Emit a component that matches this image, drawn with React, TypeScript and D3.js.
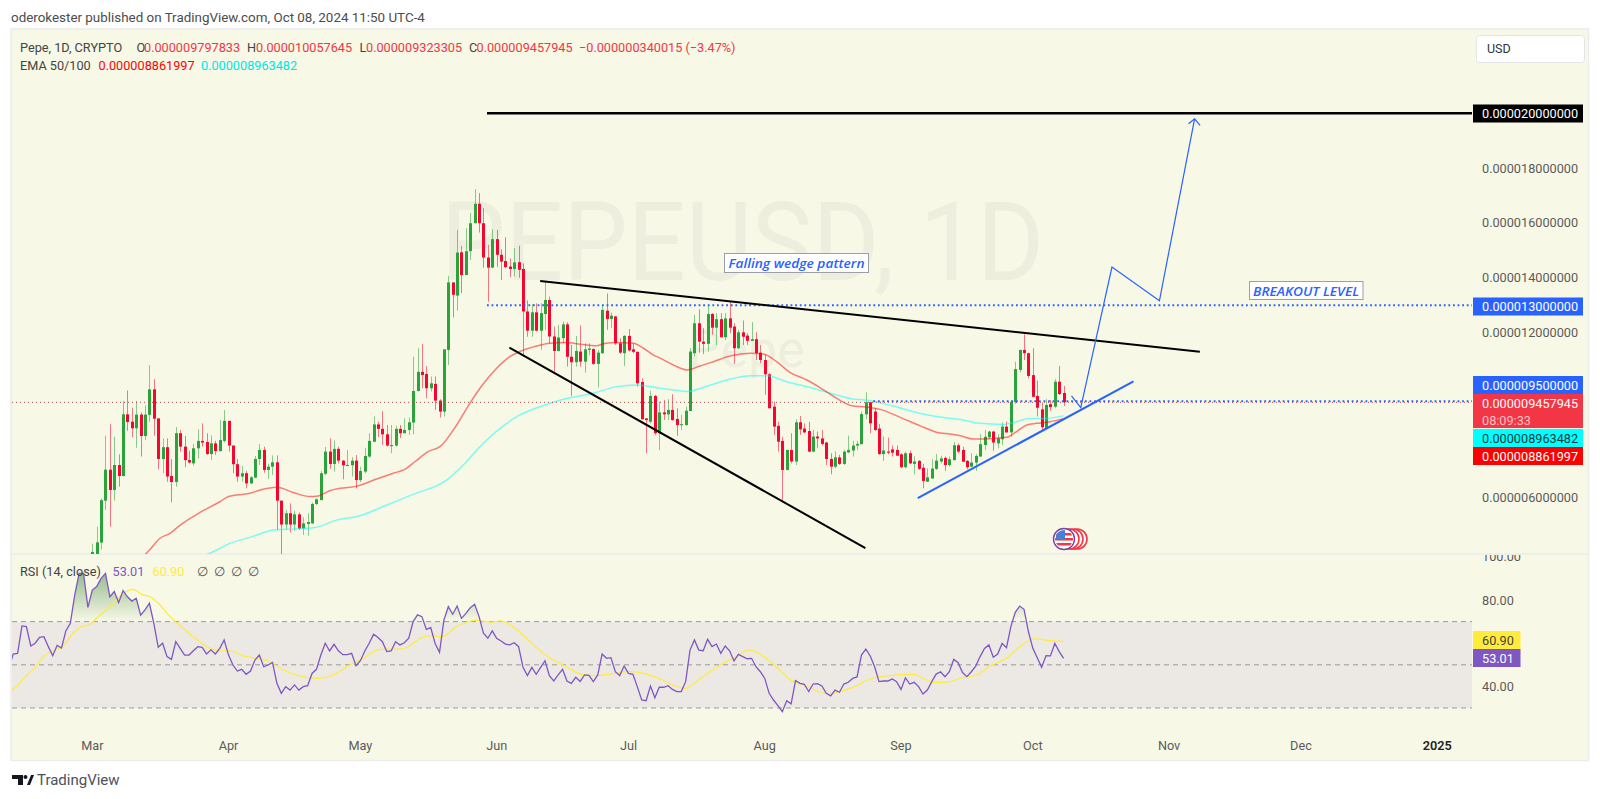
import * as d3 from "d3";

// all prices are in units of 1e-6 USD; candle index 0 is Mar 1 2024
const opens = [
  3.7, 3.9, 4.34, 5.87, 7.0, 6.26, 7.17, 6.77, 9.02, 8.75,
  8.51, 9.01, 8.23, 9.0, 9.93, 8.87, 7.39, 7.82, 6.77, 6.55,
  8.33, 7.84, 7.35, 7.23, 7.78, 8.05, 8.01, 7.57, 7.96, 7.68,
  8.05, 8.78, 7.88, 7.2, 6.75, 6.87, 6.5, 6.71, 7.39, 7.72,
  6.99, 7.11, 7.27, 5.87, 5.0, 5.41, 5.0, 5.37, 4.85, 5.02,
  5.04, 5.75, 5.89, 6.85, 7.66, 7.21, 7.76, 7.33, 7.15, 7.16,
  7.33, 6.62, 6.93, 7.48, 8.02, 8.65, 8.49, 8.29, 7.86, 7.88,
  8.49, 8.33, 8.45, 8.72, 9.87, 10.57, 10.49, 9.97, 10.13, 9.52,
  9.12, 11.37, 13.83, 13.35, 14.93, 14.1, 14.97, 15.99, 16.7, 15.99,
  14.74, 14.37, 15.41, 14.84, 14.61, 14.41, 14.32, 14.57, 14.32, 12.77,
  12.07, 12.74, 12.07, 12.68, 13.19, 11.86, 11.33, 11.8, 12.3, 11.12,
  10.92, 11.31, 10.94, 11.37, 11.4, 10.86, 11.25, 12.8, 12.5, 12.59,
  11.61, 11.25, 11.88, 11.39, 11.3, 10.2, 8.87, 8.75, 9.69, 8.33,
  9.09, 9.02, 9.18, 8.85, 8.63, 8.63, 9.14, 11.25, 12.34, 11.67,
  11.59, 12.68, 12.18, 12.49, 11.83, 12.52, 12.22, 11.43, 12.01, 11.89,
  11.7, 11.76, 11.27, 11.0, 10.48, 9.3, 8.6, 8.05, 6.99, 7.72,
  7.3, 8.73, 8.5, 8.41, 7.66, 8.21, 8.14, 7.99, 7.39, 7.11,
  7.45, 7.21, 7.63, 7.7, 7.88, 7.93, 9.02, 9.46, 9.12, 8.5,
  7.57, 7.66, 7.74, 7.72, 7.56, 7.09, 7.6, 7.21, 7.32, 7.07,
  6.56, 6.68, 7.03, 7.3, 7.43, 7.17, 7.35, 7.89, 7.72, 7.32,
  7.11, 7.26, 7.48, 7.9, 8.18, 8.39, 7.96, 8.11, 8.57, 8.36,
  9.46, 10.64, 11.37, 11.25, 10.45, 9.69, 9.2, 8.51, 9.39, 9.3,
  10.21, 9.798,
];
const highs = [
  4.3, 4.92, 5.95, 8.24, 8.66, 8.2, 7.56, 9.5, 9.89, 9.26,
  9.51, 9.09, 9.34, 10.81, 10.3, 8.87, 8.14, 8.14, 7.39, 8.56,
  8.45, 8.23, 7.69, 7.94, 8.47, 8.69, 8.33, 8.25, 8.05, 8.81,
  9.18, 8.78, 7.88, 7.39, 7.13, 6.95, 6.77, 7.5, 7.93, 7.84,
  7.21, 7.52, 7.52, 5.87, 5.53, 5.77, 5.5, 5.44, 5.26, 5.41,
  5.8, 5.95, 6.95, 7.83, 8.14, 8.06, 7.84, 7.35, 7.72, 7.45,
  7.53, 7.11, 7.8, 8.33, 8.94, 8.75, 9.14, 8.63, 8.63, 8.6,
  8.63, 8.87, 8.9, 11.12, 11.43, 11.59, 10.78, 10.4, 10.4, 9.57,
  11.39, 14.07, 13.83, 15.75, 15.16, 15.81, 16.36, 17.23, 17.09, 16.54,
  15.2, 15.77, 15.75, 15.04, 15.48, 14.71, 15.08, 15.17, 14.53, 13.17,
  13.05, 13.07, 13.07, 13.86, 13.31, 12.22, 12.28, 12.4, 12.38, 11.55,
  11.88, 12.26, 11.61, 11.61, 11.43, 11.37, 13.01, 13.43, 12.73, 12.61,
  11.79, 11.91, 12.13, 11.61, 11.3, 10.33, 8.87, 9.88, 9.73, 9.48,
  9.54, 9.57, 9.75, 9.24, 9.0, 9.3, 11.43, 12.65, 12.85, 12.16,
  13.01, 12.71, 12.71, 12.71, 12.71, 13.13, 12.34, 12.1, 12.44, 11.98,
  12.38, 12.01, 11.55, 11.19, 10.52, 9.48, 8.75, 8.2, 7.72, 8.33,
  8.84, 8.96, 8.69, 8.75, 8.45, 8.39, 8.45, 8.02, 7.6, 7.66,
  7.54, 7.72, 8.24, 8.05, 8.05, 9.12, 9.82, 9.48, 9.24, 8.66,
  8.21, 8.17, 7.88, 7.88, 7.6, 7.66, 7.7, 7.48, 7.35, 7.21,
  7.05, 7.38, 7.57, 7.51, 7.48, 7.48, 8.01, 7.96, 7.84, 7.35,
  7.6, 7.57, 8.3, 8.45, 8.42, 8.42, 8.3, 8.72, 8.75, 9.54,
  10.94, 11.37, 11.94, 11.27, 11.43, 10.25, 9.45, 9.57, 9.54, 10.3,
  10.78, 10.058,
];
const lows = [
  3.6, 3.8, 4.1, 5.53, 4.92, 5.87, 6.38, 6.75, 8.42, 8.18,
  7.8, 7.48, 8.08, 8.75, 8.24, 7.01, 6.87, 6.56, 5.81, 6.38,
  7.66, 7.09, 7.23, 7.15, 7.41, 7.84, 7.54, 7.35, 7.54, 7.66,
  7.99, 7.66, 6.87, 6.56, 6.56, 6.32, 6.48, 6.69, 7.17, 6.89,
  6.66, 6.81, 4.8, 3.7, 4.8, 4.71, 4.77, 4.8, 4.62, 4.59,
  5.02, 5.71, 5.89, 6.8, 7.03, 6.93, 7.23, 6.65, 7.13, 6.75,
  6.32, 6.55, 6.87, 7.43, 8.0, 8.2, 7.9, 7.84, 7.6, 7.84,
  8.15, 8.33, 8.27, 8.29, 9.85, 9.97, 9.6, 9.85, 9.18, 8.9,
  8.94, 10.82, 12.55, 12.8, 13.44, 14.1, 14.65, 15.99, 15.65, 14.37,
  13.13, 14.35, 14.39, 13.92, 14.35, 14.02, 14.05, 14.0, 11.13, 11.85,
  11.85, 12.04, 11.37, 12.1, 11.61, 10.58, 11.31, 11.61, 10.76, 9.69,
  10.76, 10.76, 10.54, 11.18, 10.82, 10.0, 11.22, 12.1, 12.16, 11.55,
  11.22, 10.78, 11.31, 11.25, 10.03, 8.84, 7.6, 8.69, 8.27, 7.72,
  8.81, 8.81, 8.79, 8.24, 8.45, 8.6, 9.14, 11.13, 11.27, 11.22,
  11.31, 11.92, 11.55, 11.83, 11.73, 11.98, 10.86, 11.39, 11.55, 11.55,
  11.7, 11.0, 10.88, 9.73, 9.24, 8.27, 7.66, 5.83, 6.98, 7.23,
  7.17, 8.27, 8.33, 7.63, 7.63, 7.78, 7.88, 7.17, 6.83, 7.05,
  7.17, 7.17, 7.6, 7.48, 7.72, 7.93, 8.85, 8.33, 8.41, 7.54,
  7.32, 7.56, 7.48, 7.51, 7.05, 7.05, 7.2, 6.83, 6.99, 6.32,
  6.56, 6.66, 6.99, 7.23, 6.96, 7.11, 7.33, 7.6, 7.27, 7.01,
  7.09, 6.96, 7.48, 7.72, 8.14, 7.69, 7.78, 7.9, 8.35, 8.2,
  9.4, 10.55, 11.0, 10.33, 9.64, 8.94, 8.39, 8.47, 9.15, 9.24,
  9.73, 9.323,
];
const closes = [
  4.0, 4.35, 5.89, 7.0, 6.26, 7.17, 6.77, 9.02, 8.74, 8.51,
  9.01, 8.23, 9.01, 9.93, 8.86, 7.39, 7.82, 6.75, 6.55, 8.33,
  7.84, 7.35, 7.26, 7.78, 8.05, 7.99, 7.57, 7.96, 7.68, 8.08,
  8.78, 7.88, 7.2, 6.75, 6.87, 6.5, 6.72, 7.39, 7.72, 6.99,
  7.11, 7.27, 5.87, 5.0, 5.41, 5.0, 5.37, 4.85, 5.04, 5.09,
  5.75, 5.92, 6.87, 7.66, 7.21, 7.76, 7.33, 7.16, 7.17, 7.33,
  6.62, 6.95, 7.5, 8.05, 8.65, 8.49, 8.29, 7.88, 7.9, 8.49,
  8.33, 8.45, 8.73, 9.87, 10.57, 10.45, 9.97, 10.15, 9.52, 9.12,
  11.39, 13.83, 13.38, 14.92, 14.1, 14.97, 15.99, 16.7, 15.99, 14.74,
  14.37, 15.41, 14.84, 14.59, 14.39, 14.32, 14.56, 14.29, 12.77, 12.07,
  12.74, 12.07, 12.71, 13.19, 11.86, 11.33, 11.82, 12.3, 11.12, 10.92,
  11.33, 10.94, 11.39, 11.42, 10.86, 11.27, 12.83, 12.5, 12.62, 11.61,
  11.27, 11.88, 11.35, 11.3, 10.15, 8.84, 8.81, 9.69, 8.33, 9.09,
  9.02, 9.18, 8.81, 8.63, 8.66, 9.15, 11.31, 12.34, 11.67, 11.59,
  12.68, 12.18, 12.49, 11.83, 12.52, 12.18, 11.43, 12.01, 11.85, 11.7,
  11.76, 11.25, 11.0, 10.48, 9.24, 8.57, 8.02, 6.99, 7.72, 7.3,
  8.73, 8.47, 8.36, 7.66, 8.21, 8.14, 7.94, 7.39, 7.11, 7.45,
  7.21, 7.66, 7.72, 7.88, 7.94, 9.03, 9.46, 8.69, 8.45, 7.57,
  7.7, 7.62, 7.62, 7.51, 7.09, 7.6, 7.23, 7.3, 7.03, 6.59,
  6.72, 7.04, 7.33, 7.41, 7.17, 7.38, 7.89, 7.66, 7.29, 7.09,
  7.26, 7.5, 7.93, 8.2, 8.39, 7.99, 8.14, 8.57, 8.36, 9.48,
  10.67, 11.37, 11.25, 10.42, 9.66, 9.26, 8.55, 9.36, 9.28, 10.21,
  9.76, 9.458,
];

const ema50Days = [12, 13, 15.4, 17.7, 20, 24.5, 29, 31, 35.9, 38.2, 42, 45.7, 49.5, 51.4, 54, 56.4, 60.2, 64.7, 68.5, 71.1, 73.4, 76.4, 79.1, 82.9, 85.9, 88.2, 92, 95, 97.3, 101.1, 104.1, 107.9, 111, 114.7, 116.3, 119.3, 123.1, 125.4, 127.6, 129.2, 132.2, 135.3, 138.3, 141.3, 145.1, 149.7, 152.7, 155.7, 158.8, 162.6, 166.4, 169.4, 173.2, 175.5, 179.3, 183.8, 188.4, 192.2, 195.2, 197.5, 200.4, 205, 208, 210.3, 212.6, 214.8, 217.9, 221];
const ema50Values = [3.9, 4.07, 4.5, 4.68, 4.98, 5.44, 5.83, 6.02, 6.14, 6.26, 6.36, 6.17, 6.02, 6.04, 6.23, 6.32, 6.4, 6.66, 6.87, 7.01, 7.29, 7.66, 7.84, 8.63, 9.42, 9.97, 10.7, 11.12, 11.31, 11.51, 11.61, 11.64, 11.58, 11.52, 11.59, 11.64, 11.61, 11.43, 11.19, 11.07, 10.82, 10.64, 10.78, 10.94, 11.15, 11.25, 11.22, 10.94, 10.54, 10.27, 9.91, 9.6, 9.32, 9.3, 9.2, 8.91, 8.6, 8.36, 8.3, 8.24, 8.12, 8.14, 8.18, 8.39, 8.63, 8.69, 8.75, 8.862];
const ema100Days = [26, 28.3, 31.3, 35.9, 41.2, 45.7, 50.3, 55.6, 60.9, 67, 73, 80.6, 84.4, 88.2, 92.8, 96.9, 101.9, 107.2, 114, 119.3, 123.9, 129.2, 132.2, 135.3, 139, 144.4, 149.7, 153.5, 158, 163.3, 167.9, 172.4, 177.7, 182.3, 188.4, 193.7, 197.5, 202, 207.3, 210.3, 213, 216.4, 221];
const ema100Values = [3.9, 4.07, 4.31, 4.53, 4.8, 4.84, 4.88, 5.16, 5.32, 5.71, 6.1, 6.62, 7.17, 7.84, 8.51, 8.96, 9.3, 9.57, 9.79, 10.03, 10.09, 9.97, 9.91, 9.85, 10.0, 10.27, 10.43, 10.43, 10.21, 10.0, 9.79, 9.6, 9.5, 9.32, 9.05, 8.9, 8.83, 8.69, 8.65, 8.75, 8.87, 8.87, 8.963];

// RSI starts 19 days before Mar 1
const rsiFirstDay = -19;
const rsiValues = [
  48,
  55.0, 55.3, 68.0, 67.7, 58.7, 60.0, 62.7, 63.0, 58.4, 54.2,
  59.0, 57.8, 65.8, 69.2, 82.3, 92.3, 92.3, 76.6, 84.6, 86.2,
  90.0, 92.3, 81.5, 83.9, 78.9, 84.3, 81.5, 79.5, 80.8, 73.0,
  75.4, 78.5, 69.2, 58.1, 60.0, 53.8, 52.5, 60.7, 57.6, 54.5,
  54.5, 56.5, 58.4, 58.1, 55.0, 56.9, 55.0, 57.6, 61.5, 54.5,
  49.9, 47.1, 47.9, 45.6, 47.1, 52.2, 54.5, 49.1, 49.9, 51.1,
  41.4, 36.8, 39.9, 38.3, 40.7, 38.3, 39.9, 40.3, 46.0, 47.9,
  54.5, 60.0, 56.4, 59.5, 56.5, 54.7, 54.7, 55.3, 49.6, 51.9,
  56.4, 60.0, 64.1, 62.6, 60.7, 56.1, 56.4, 60.7, 59.2,
  60.2, 62.3, 70.0, 73.1, 72.3, 66.4, 67.2, 59.9, 55.8, 70.7,
  76.9, 73.4, 77.2, 71.5, 73.8, 76.4, 78.0, 72.3, 64.6, 62.3,
  65.7, 62.3, 61.0, 59.6, 59.2, 60.2, 58.4, 48.8, 45.0, 48.8,
  45.6, 48.8, 51.9, 45.0, 42.5, 45.3, 47.9, 42.5, 41.4, 44.2,
  42.3, 45.3, 45.1, 42.2, 45.3, 55.0, 53.0, 53.3, 46.8, 45.0,
  49.4, 46.0, 45.6, 39.9, 33.7, 33.4, 40.2, 34.8, 39.6, 39.6,
  40.3, 38.6, 37.6, 37.6, 42.2, 56.8, 61.5, 56.8, 56.5, 61.8,
  58.4, 59.6, 55.3, 58.7, 56.5, 51.8, 54.8, 53.8, 52.8, 53.0,
  49.1, 46.8, 43.7, 36.8, 33.7, 31.1, 28.3, 33.4, 31.9, 42.7,
  41.4, 41, 37.6, 41.1, 41.3, 40.2, 36.8, 35.6, 38.3, 37.3,
  41.1, 41.9, 43.7, 44.4, 54.5, 57.3, 54.1, 49.1, 42.2, 42.5,
  42.5, 43.4, 42.2, 38.6, 44, 41.1, 41.9, 39.9, 36.5, 38.3,
  42.2, 45.7, 46.8, 44.5, 46.8, 52.5, 51, 46.4, 44.5, 46.8,
  49.4, 53.8, 57.6, 59.2, 53.5, 55, 59.9, 57.9, 67.7, 74.3,
  77.2, 75.7, 65.3, 57.6, 53.3, 48.8, 54.2, 54.1, 59.9, 56.1,
  53.01,
];
const rsiMaDays = [-18.4, -16.8, -14.9, -13, -11.1, -8.9, -6.6, -4.7, -2.4, -0.9, 1.8, 4.4, 7.1, 9.3, 11.2, 13.1, 15.4, 17.7, 20.7, 23.7, 26.8, 29.1, 31.3, 34.4, 37.4, 40.4, 43.5, 47.3, 51.1, 54.8, 58.6, 61.7, 64.7, 67, 70, 72.3, 74.6, 76.8, 79.5, 82.9, 85.2, 87.4, 90.5, 92.8, 96.2, 98.8, 101.9, 104.9, 107.9, 111.3, 114.7, 117.8, 122.3, 128.4, 132.2, 134.8, 137.5, 140.2, 143.6, 146.6, 149.3, 152.7, 155.7, 158.7, 161.8, 164.8, 167.8, 170.1, 173.5, 176.9, 181.5, 186.8, 189.1, 191.3, 194.4, 198.2, 201.2, 204.2, 208, 211, 213.3, 214.9, 217.9, 221];
const rsiMaValues = [38.3, 40.7, 45.3, 48.7, 53.8, 56.4, 58.7, 63.8, 67.7, 68.4, 73, 77.7, 83.1, 84.9, 82.6, 81.5, 77.7, 72.3, 66.9, 61.8, 57.6, 56.5, 56.5, 54.1, 53, 51.4, 47.6, 44.8, 43.7, 45.3, 49.9, 53, 56.8, 57.3, 57.3, 58.8, 62.3, 63.5, 63, 67.7, 69.7, 70.7, 69.7, 70.3, 66.9, 62.3, 56.5, 52.2, 49.1, 45.6, 45, 45.7, 46.8, 44.2, 40.6, 39.1, 42.2, 46.4, 50.7, 53.8, 56.9, 54, 48.9, 43.2, 40.7, 38, 36.5, 37.6, 39.9, 43.4, 45, 45.6, 43.8, 41.9, 42, 44.2, 45.3, 49.4, 53, 58.4, 61.5, 62, 61.2, 60.9];

const priceTicks = [18, 16, 14, 12, 6];
const rsiTicks = [100, 80, 40];
const rsiBands = [70, 50, 30];
const timeTicks = [
  { label: "Mar", date: [2024, 2] },
  { label: "Apr", date: [2024, 3] },
  { label: "May", date: [2024, 4] },
  { label: "Jun", date: [2024, 5] },
  { label: "Jul", date: [2024, 6] },
  { label: "Aug", date: [2024, 7] },
  { label: "Sep", date: [2024, 8] },
  { label: "Oct", date: [2024, 9] },
  { label: "Nov", date: [2024, 10] },
  { label: "Dec", date: [2024, 11] },
  { label: "2025", date: [2025, 0] },
];

// drawings: [day, price]; the horizontal ones run off the right of the pane
const targetLine = [[89.8, 20], [320, 20]];
const breakoutLine = [[89.8, 13], [320, 13]];
const supportLine = [[177.7, 9.5], [320, 9.5]];
const wedgeUpper = [[101.9, 13.88], [252, 11.3]];
const wedgeLower = [[94.9, 11.45], [175.9, 4.14]];
const blueTrend = [[187.8, 5.96], [236.9, 10.22]];
const projection = [[222.8, 9.69], [224.9, 9.26], [232, 14.39], [242.8, 13.16], [250.8, 19.8]];

const GREEN = "#2aa33b";
const RED = "#f5062f";
const BLUE = "#2962ff";
const BG = "#f7f8e6";
const AXIS_TEXT = "#5b5b5b";
const FONT = "Roboto, sans-serif";

const plot = { left: 12, right: 1472, top: 30, split: 554, bottom: 722 };

const dayMs = 86400000;
const mar1 = Date.UTC(2024, 2, 1);
const xTime = d3
  .scaleUtc()
  .domain([new Date(mar1), new Date(Date.UTC(2025, 0, 1))])
  .range([92.3, 1437.2]);
const xDay = (d: number) => xTime(new Date(mar1 + d * dayMs));
const yPrice = d3.scaleLinear().domain([20, 6]).range([113.3, 497.1]);
const yRsi = d3.scaleLinear().domain([80, 40]).range([600, 686.4]);

const priceLine = d3
  .line<number[]>()
  .x((d) => xDay(d[0]))
  .y((d) => yPrice(d[1]));
const smoothPrice = d3
  .line<number[]>()
  .x((d) => xDay(d[0]))
  .y((d) => yPrice(d[1]))
  .curve(d3.curveMonotoneX);
const rsiLine = d3
  .line<number[]>()
  .x((d) => xDay(d[0]))
  .y((d) => yRsi(d[1]));
const smoothRsi = d3
  .line<number[]>()
  .x((d) => xDay(d[0]))
  .y((d) => yRsi(d[1]))
  .curve(d3.curveMonotoneX);
const formatPrice = (p: number) => d3.format(".12f")(p * 1e-6);

const rsiPoints = rsiValues.map((v, i) => [rsiFirstDay + i, v]);
const rsiMaPoints = rsiMaDays.map((d, i) => [d, rsiMaValues[i]]);
const ema50Points = ema50Days.map((d, i) => [d, ema50Values[i]]);
const ema100Points = ema100Days.map((d, i) => [d, ema100Values[i]]);
const rsiArea = (base: number) =>
  d3
    .area<number[]>()
    .x((d) => xDay(d[0]))
    .y0(yRsi(base))
    .y1((d) => yRsi(d[1]))(rsiPoints) as string;

function PriceLabel({ y, h = 18, fill, color = "#fff", text, width = 110 }: any) {
  return (
    <g>
      <rect x={1473} y={y} width={width} height={h} fill={fill} />
      <text x={1482} y={y + 13.5} fontSize={12.7} fill={color}>
        {text}
      </text>
    </g>
  );
}

export default function App() {
  const tip = projection[projection.length - 1];
  const tipX = xDay(tip[0]);
  const tipY = yPrice(tip[1]);

  return (
    <svg
      width={1600}
      height={799}
      style={{ position: "absolute", left: 0, top: 0, display: "block", fontFamily: FONT }}
    >
      <defs>
        <clipPath id="pricePane">
          <rect x={plot.left} y={plot.top} width={plot.right - plot.left} height={plot.split - plot.top} />
        </clipPath>
        <clipPath id="rsiPane">
          <rect x={plot.left} y={plot.split + 1} width={plot.right - plot.left} height={plot.bottom - plot.split} />
        </clipPath>
        <clipPath id="aboveBand">
          <rect x={plot.left} y={plot.split} width={plot.right - plot.left} height={yRsi(70) - plot.split} />
        </clipPath>
        <clipPath id="belowBand">
          <rect x={plot.left} y={yRsi(30)} width={plot.right - plot.left} height={30} />
        </clipPath>
        <clipPath id="axisRsi">
          <rect x={1473} y={plot.split + 1} width={120} height={200} />
        </clipPath>
        <clipPath id="flagCircle">
          <circle cx={1064} cy={539} r={9} />
        </clipPath>
        <linearGradient id="overbought" gradientUnits="userSpaceOnUse" x1={0} x2={0} y1={yRsi(93)} y2={yRsi(70)}>
          <stop offset="0" stopColor="#2e7d32" stopOpacity={0.5} />
          <stop offset="1" stopColor="#2e7d32" stopOpacity={0} />
        </linearGradient>
        <linearGradient id="oversold" gradientUnits="userSpaceOnUse" x1={0} x2={0} y1={yRsi(30)} y2={yRsi(20)}>
          <stop offset="0" stopColor="#d32f2f" stopOpacity={0} />
          <stop offset="1" stopColor="#d32f2f" stopOpacity={0.5} />
        </linearGradient>
      </defs>

      <rect width={1600} height={799} fill="#fff" />
      <text x={11} y={22} fontSize={13.4} fill="#4c4c4c">
        oderokester published on TradingView.com, Oct 08, 2024 11:50 UTC-4
      </text>

      <rect x={11} y={29} width={1577.5} height={731.5} fill={BG} stroke="#ececec" strokeWidth={1.5} />
      <line x1={plot.left} x2={1588} y1={plot.split} y2={plot.split} stroke="#e4e6ee" />

      {/* watermark */}
      <g fill="#edeede">
        <text x={441} y={280} fontSize={110} textLength={603} lengthAdjust="spacingAndGlyphs">
          PEPEUSD, 1D
        </text>
        <text x={688} y={367} fontSize={52}>
          Pepe
        </text>
      </g>

      {/* candles */}
      <g clipPath="url(#pricePane)">
        {opens.map((o, i) => {
          const c = closes[i];
          const color = c >= o ? GREEN : RED;
          const cx = Math.round(xDay(i));
          const top = yPrice(Math.max(o, c));
          const bottom = yPrice(Math.min(o, c));
          return (
            <g key={i}>
              <line
                x1={cx + 0.5}
                x2={cx + 0.5}
                y1={yPrice(highs[i])}
                y2={yPrice(lows[i])}
                stroke={color}
                strokeOpacity={0.55}
              />
              <rect x={cx - 1} y={top} width={3} height={Math.max(bottom - top, 1)} fill={color} />
            </g>
          );
        })}
        <path d={smoothPrice(ema100Points) as string} fill="none" stroke="#00ffff" strokeOpacity={0.5} strokeWidth={1.5} />
        <path d={smoothPrice(ema50Points) as string} fill="none" stroke="#ff0000" strokeOpacity={0.5} strokeWidth={1.5} />

        {/* last price */}
        <line
          x1={plot.left}
          x2={plot.right}
          y1={yPrice(closes[closes.length - 1])}
          y2={yPrice(closes[closes.length - 1])}
          stroke="#a8474c"
          strokeWidth={1}
          strokeDasharray="1 3"
        />

        {/* drawings */}
        <path d={priceLine(targetLine) as string} stroke="#000" strokeWidth={2.5} fill="none" />
        <path d={priceLine(breakoutLine) as string} stroke={BLUE} strokeWidth={2} strokeDasharray="1.8 2.8" fill="none" />
        <path d={priceLine(supportLine) as string} stroke={BLUE} strokeWidth={2} strokeDasharray="1.8 2.8" fill="none" />
        <path d={priceLine(wedgeUpper) as string} stroke="#000" strokeWidth={2} fill="none" />
        <path d={priceLine(wedgeLower) as string} stroke="#000" strokeWidth={2} fill="none" />
        <path d={priceLine(blueTrend) as string} stroke={BLUE} strokeWidth={2} fill="none" />
        <path d={priceLine(projection) as string} stroke={BLUE} strokeWidth={1.2} fill="none" strokeLinejoin="miter" />
        <path
          d={`M${tipX - 6},${tipY + 5}L${tipX},${tipY}L${tipX + 5.5},${tipY + 6.5}`}
          stroke={BLUE}
          strokeWidth={1.2}
          fill="none"
        />
      </g>

      {/* text notes */}
      <g fontSize={13} fontWeight={600} fontStyle="italic" fill={BLUE} fontFamily="'Open Sans', sans-serif">
        <rect x={724.5} y={253.5} width={144} height={19} fill="#fff" stroke="#9aa0a6" />
        <text x={796.5} y={268} textAnchor="middle" textLength={136} lengthAdjust="spacingAndGlyphs">
          Falling wedge pattern
        </text>
        <rect x={1249.5} y={281.5} width={113.5} height={18} fill="#fff" stroke="#9aa0a6" />
        <text x={1306} y={295.5} textAnchor="middle" textLength={106} lengthAdjust="spacingAndGlyphs">
          BREAKOUT LEVEL
        </text>
      </g>

      {/* calendar icons */}
      <g>
        {[1077, 1073, 1069].map((cx) => (
          <circle key={cx} cx={cx} cy={539} r={10} fill="#fff" stroke="#f23645" strokeWidth={1.6} />
        ))}
        <circle cx={1064} cy={539} r={10.5} fill="#fff" stroke="#7b3fa8" strokeWidth={1.4} />
        <g clipPath="url(#flagCircle)">
          <rect x={1054} y={530} width={20} height={18} fill="#fff" />
          <rect x={1054} y={533} width={20} height={2.5} fill="#f23645" />
          <rect x={1054} y={538} width={20} height={2.5} fill="#f23645" />
          <rect x={1054} y={543} width={20} height={2.5} fill="#f23645" />
          <rect x={1056} y={530} width={9} height={9} fill="#4a7fd1" />
        </g>
      </g>

      {/* RSI pane */}
      <g clipPath="url(#rsiPane)">
        <rect
          x={plot.left}
          y={yRsi(70)}
          width={plot.right - plot.left}
          height={yRsi(30) - yRsi(70)}
          fill="#ece9e4"
        />
        {rsiBands.map((b) => (
          <line
            key={b}
            x1={plot.left}
            x2={plot.right}
            y1={yRsi(b)}
            y2={yRsi(b)}
            stroke="#9b9b9b"
            strokeDasharray="5 4"
          />
        ))}
        <path d={rsiArea(70)} fill="url(#overbought)" clipPath="url(#aboveBand)" />
        <path d={rsiArea(30)} fill="url(#oversold)" clipPath="url(#belowBand)" />
        <path d={smoothRsi(rsiMaPoints) as string} fill="none" stroke="#ffeb3b" strokeWidth={1.2} />
        <path d={rsiLine(rsiPoints) as string} fill="none" stroke="#7e57c2" strokeWidth={1.3} />
      </g>

      {/* legend */}
      <g fontSize={12.7}>
        <text y={52} fill="#444">
          <tspan x={20}>Pepe, 1D, CRYPTO</tspan>
          <tspan x={136.5}>O</tspan>
          <tspan x={247}>H</tspan>
          <tspan x={359.5}>L</tspan>
          <tspan x={469}>C</tspan>
        </text>
        <text y={52} fill="#f23645">
          <tspan x={144}>0.000009797833</tspan>
          <tspan x={256}>0.000010057645</tspan>
          <tspan x={366}>0.000009323305</tspan>
          <tspan x={476.5}>0.000009457945</tspan>
          <tspan x={579}>−0.000000340015 (−3.47%)</tspan>
        </text>
        <text x={20} y={70} fill="#444">
          EMA 50/100
        </text>
        <text x={98.5} y={70} fill="#ff0000">
          0.000008861997
        </text>
        <text x={201} y={70} fill="#00e5e5">
          0.000008963482
        </text>
        <text x={20} y={576} fill="#444">
          RSI (14, close)
        </text>
        <text x={112.5} y={576} fill="#7e57c2">
          53.01
        </text>
        <text x={152.5} y={576} fill="#ffeb3b">
          60.90
        </text>
        {[197, 214, 231, 248].map((x) => (
          <text key={x} x={x} y={576} fill="#555">
            ∅
          </text>
        ))}
      </g>

      {/* USD box */}
      <rect x={1476.5} y={35.5} width={108} height={27} rx={3} fill="#fff" stroke="#e3e4e8" />
      <text x={1487} y={53} fontSize={12.5} fill="#333">
        USD
      </text>

      {/* price axis */}
      <g fontSize={12.7} fill={AXIS_TEXT}>
        {priceTicks.map((p) => (
          <text key={p} x={1482} y={yPrice(p) + 4.5}>
            {formatPrice(p)}
          </text>
        ))}
      </g>
      <PriceLabel y={104.5} fill="#000" text={formatPrice(20)} />
      <PriceLabel y={297.5} fill={BLUE} text={formatPrice(13)} />
      <PriceLabel y={376} fill={BLUE} text={formatPrice(9.5)} />
      <PriceLabel y={394} h={34} fill="#f23645" text="0.000009457945" />
      <text x={1482} y={425} fontSize={12.7} fill="#fbc0c6">
        08:09:33
      </text>
      <PriceLabel y={429} fill="#00ffff" color="#0b3b3b" text="0.000008963482" />
      <PriceLabel y={447} fill="#ff0000" text="0.000008861997" />

      {/* rsi axis */}
      <g fontSize={12.7} fill={AXIS_TEXT} clipPath="url(#axisRsi)">
        {rsiTicks.map((v) => (
          <text key={v} x={1482} y={yRsi(v) + 4.5}>
            {d3.format(".2f")(v)}
          </text>
        ))}
      </g>
      <PriceLabel y={631} width={47.5} fill="#ffeb3b" color="#444" text="60.90" />
      <PriceLabel y={649} width={47.5} fill="#7e57c2" text="53.01" />

      {/* time axis */}
      <g fontSize={12.7} textAnchor="middle">
        {timeTicks.map((t) => (
          <text
            key={t.label}
            x={xTime(new Date(Date.UTC(t.date[0], t.date[1], 1)))}
            y={750}
            fill={t.label === "2025" ? "#222" : AXIS_TEXT}
            fontWeight={t.label === "2025" ? 600 : 400}
          >
            {t.label}
          </text>
        ))}
      </g>

      {/* footer logo */}
      <g fill="#131722">
        <path d="M12,775h11v10h-5v-6h-6z" />
        <circle cx={25.5} cy={777} r={2} />
        <path d="M27,785l4-10h3l-4,10z" />
      </g>
      <text x={37} y={785} fontSize={15} fill="#4c525e">
        TradingView
      </text>
    </svg>
  );
}
